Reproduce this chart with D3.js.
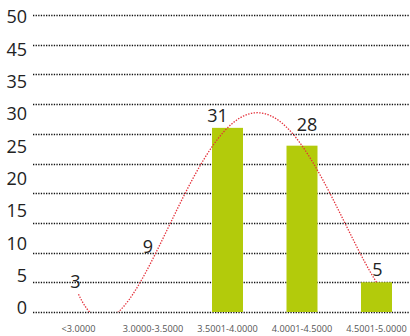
<!DOCTYPE html>
<html>
<head>
<meta charset="utf-8">
<script src="https://cdn.jsdelivr.net/npm/d3@7"></script>
<style>
  html, body { margin: 0; padding: 0; background: #fff; }
  svg { display: block; }
  text { font-family: "Open Sans", "Noto Sans", sans-serif; }
</style>
</head>
<body>
<svg id="chart" width="410" height="336"></svg>
<script>
// Score ranges and how many fall into each
const categories = ["<3.0000", "3.0000-3.5000", "3.5001-4.0000", "4.0001-4.5000", "4.5001-5.0000"];
const counts = [3, 9, 31, 28, 5];
// Axis labels printed down the left side
const yTickLabels = ["50", "45", "35", "30", "25", "20", "15", "10", "5", "0"];
const yGridValues = [0, 5, 10, 15, 20, 25, 30, 35, 40, 45, 50];

const W = 410, H = 336;
const svg = d3.select("#chart");

const y = d3.scaleLinear().domain([0, 50]).range([312, 15]);
const x = d3.scaleBand()
  .domain(categories)
  .range([41.25, 413.75])
  .paddingInner(0.584)
  .paddingOuter(0.292);
const cx = c => x(c) + x.bandwidth() / 2;

// dotted horizontal grid
svg.append("g").selectAll("line")
  .data(yGridValues)
  .join("line")
  .attr("x1", 33).attr("x2", W)
  .attr("y1", d => Math.round(y(d)) + 0.5)
  .attr("y2", d => Math.round(y(d)) + 0.5)
  .attr("stroke", "#111")
  .attr("stroke-width", 1.3)
  .attr("stroke-dasharray", "1.3 1.3");

// left labels, evenly stacked
const yLab = d3.scalePoint().domain(yTickLabels).range([17, 308]);
svg.append("g").selectAll("text")
  .data(yTickLabels)
  .join("text")
  .attr("x", 27)
  .attr("y", d => yLab(d))
  .attr("dy", "0.36em")
  .attr("text-anchor", "end")
  .attr("font-size", 18)
  .attr("fill", "#222")
  .text(d => d);

// bars (the two lowest groups have no fill)
svg.append("g").selectAll("rect")
  .data(categories)
  .join("rect")
  .attr("x", d => x(d))
  .attr("width", x.bandwidth())
  .attr("y", (d, i) => y(counts[i]))
  .attr("height", (d, i) => y(0) - y(counts[i]))
  .attr("fill", (d, i) => i < 2 ? "none" : "#b3cb0b");

// category labels
svg.append("g").selectAll("text")
  .data(categories)
  .join("text")
  .attr("x", d => cx(d))
  .attr("y", 332)
  .attr("text-anchor", "middle")
  .attr("font-size", 9.2)
  .attr("fill", "#555")
  .text(d => d);

// order-4 polynomial trendline through the counts (Lagrange form)
const lagrange = t => {
  let s = 0;
  for (let i = 0; i < counts.length; i++) {
    let p = counts[i];
    for (let j = 0; j < counts.length; j++) if (j !== i) p *= (t - j) / (i - j);
    s += p;
  }
  return s;
};
const xt = d3.scaleLinear().domain([0, counts.length - 1]).range([cx(categories[0]), cx(categories[categories.length - 1])]);
const samples = d3.range(0, counts.length - 1 + 1e-9, 0.02);

svg.append("clipPath").attr("id", "plotClip")
  .append("rect").attr("x", 0).attr("y", 0).attr("width", W).attr("height", y(0));

svg.append("path")
  .datum(samples)
  .attr("clip-path", "url(#plotClip)")
  .attr("d", d3.line().x(t => xt(t)).y(t => y(lagrange(t))).curve(d3.curveLinear))
  .attr("fill", "none")
  .attr("stroke", "#e4303a")
  .attr("stroke-width", 1.3)
  .attr("stroke-dasharray", "1.4 1.4");

// value labels, nudged clear of the trendline
const nudgeX = [-3, -5, -10, 5, 1];
const nudgeY = [0, 0, 0, -9, 0];
svg.append("g").selectAll("text")
  .data(categories)
  .join("text")
  .attr("x", (d, i) => cx(d) + nudgeX[i])
  .attr("y", (d, i) => y(counts[i]) - 6 + nudgeY[i])
  .attr("text-anchor", "middle")
  .attr("font-size", 18)
  .attr("fill", "#222")
  .text((d, i) => counts[i]);
</script>
</body>
</html>
